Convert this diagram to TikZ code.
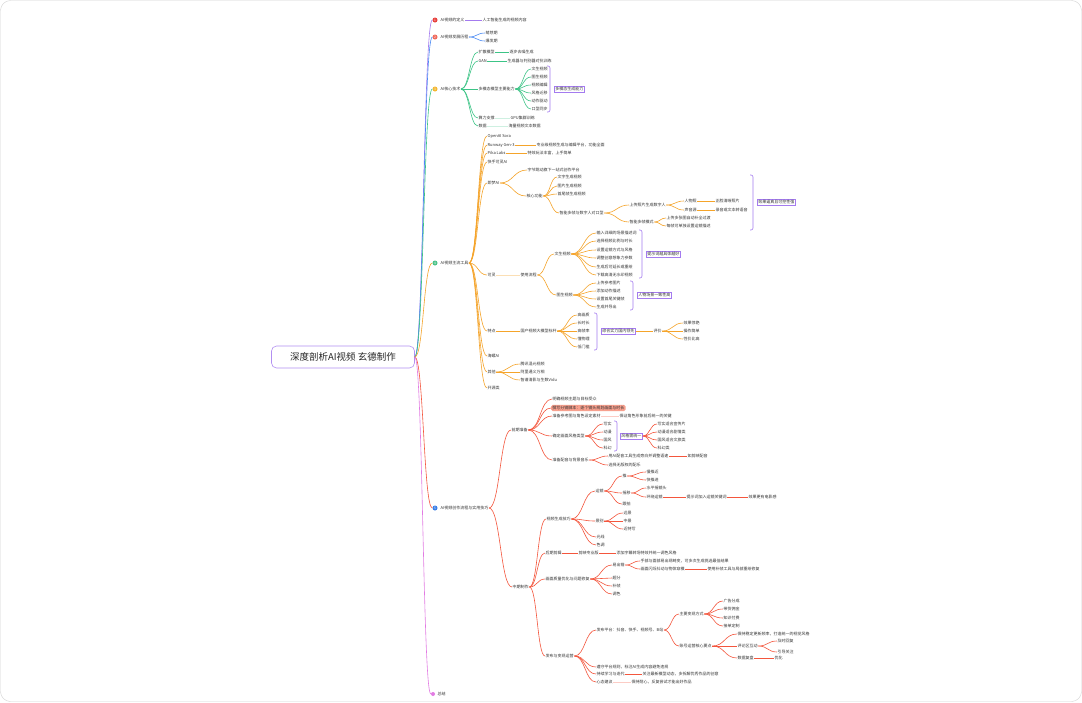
\documentclass[tikz,border=0pt]{standalone}
\usepackage{fontspec}
\setmainfont{Noto Sans CJK SC}
\usepackage{xcolor}
\usepackage{tikz}
\usetikzlibrary{calc, positioning}
\definecolor{cpurple}{HTML}{A47BEF}
\definecolor{cblue}{HTML}{4A8AF4}
\definecolor{cgreen}{HTML}{3CC486}
\definecolor{corange}{HTML}{F5A42A}
\definecolor{cred}{HTML}{F4563D}
\definecolor{cpink}{HTML}{E27BE3}
\definecolor{csalmon}{HTML}{F7A08E}
\definecolor{dred}{HTML}{E8413E}
\definecolor{dsalmon}{HTML}{F06A5C}
\definecolor{dyellow}{HTML}{F4B731}
\definecolor{dgreen}{HTML}{4CC38A}
\definecolor{dblue}{HTML}{3A7FE8}
\tikzset{
    rootnode/.style = {draw=cpurple!85, rounded corners=5pt, line width=0.6pt, minimum width=143pt,
      minimum height=22pt, font=\fontsize{9.5}{11}\selectfont, text=black!85},
    textnode/.style = {anchor=west, inner sep=0.5pt, font=\fontsize{4}{4.8}\selectfont, text=black!80},
    boxnode/.style = {draw=cpurple, line width=0.5pt, fill=white, anchor=west, inner sep=1.2pt,
      font=\fontsize{4}{4.8}\selectfont, text=black!80},
    markbox/.style = {fill=csalmon, rounded corners=1.5pt, anchor=west, inner sep=1.2pt,
      font=\fontsize{4}{4.8}\selectfont, text=black!80},
    dotnode/.style = {circle, minimum size=5pt, inner sep=0pt, text=white, font=\fontsize{3.2}{3.2}\selectfont},
    connect/.style = {line width=0.6pt},
    bracketline/.style = {draw=cpurple, line width=0.6pt, rounded corners=2pt},
    link/.style = {to path={let \p1=(\tikztostart.east), \p2=(\tikztotarget.west) in
      (\p1) .. controls ({(\x1+\x2)/2},\y1) and ({(\x1+\x2)/2},\y2) .. (\p2)}}
}
\begin{document}
\begin{tikzpicture}[x=1pt, y=-1pt]
    \useasboundingbox (0,0) rectangle (1082,702);
    \draw [gray!35, fill=white, rounded corners=10pt] (0.5,0.5) rectangle (1081.5,701.5);

    \node [rootnode, name=root] at (343,357) {深度剖析AI视频 玄德制作};

    % branch 1
    \node [dotnode, fill=dred, name=d1] at (435,20) {1};
    \node [textnode, name=b1] at (440,20) {AI视频的定义};
    \node [textnode, name=b1a] at (482,20) {人工智能生成的视频内容};
    \draw [connect, cpurple] (root) edge[link] (d1) (b1) edge[link] (b1a);

    % branch 2
    \node [dotnode, fill=dsalmon, name=d2] at (435,37) {2};
    \node [textnode, name=b2] at (440,37) {AI视频发展历程};
    \node [textnode, name=b2a] at (485,33) {萌芽期};
    \node [textnode, name=b2b] at (485,41) {爆发期};
    \draw [connect, cblue] (root) edge[link] (d2) (b2) edge[link] (b2a) edge[link] (b2b);

    % branch 3
    \node [dotnode, fill=dyellow, name=d3] at (435,89) {3};
    \node [textnode, name=b3] at (440,89) {AI核心技术};
    \node [textnode, name=b3a] at (478,52) {扩散模型};
    \node [textnode, name=b3a1] at (509,52) {逐步去噪生成};
    \node [textnode, name=b3b] at (478,61) {GAN};
    \node [textnode, name=b3b1] at (507,61) {生成器与判别器对抗训练};
    \node [textnode, name=b3c] at (478,89) {多模态模型主要能力};
    \node [textnode, name=m1] at (531,69) {文生视频};
    \node [textnode, name=m2] at (531,77) {图生视频};
    \node [textnode, name=m3] at (531,85) {视频编辑};
    \node [textnode, name=m4] at (531,93) {风格迁移};
    \node [textnode, name=m5] at (531,101) {动作驱动};
    \node [textnode, name=m6] at (531,109) {口型同步};
    \draw [bracketline] (547,66) -- (550,66) -- (550,112) -- (547,112);
    \node [boxnode, name=s3] at (554,89) {多模态生成能力};
    \node [textnode, name=b3d] at (478,118) {算力支撑};
    \node [textnode, name=b3d1] at (510,118) {GPU集群训练};
    \node [textnode, name=b3e] at (478,126) {数据};
    \node [textnode, name=b3e1] at (508,126) {海量视频文本数据};
    \draw [connect, cgreen] (root) edge[link] (d3)
      (b3) edge[link] (b3a) edge[link] (b3b) edge[link] (b3c) edge[link] (b3d) edge[link] (b3e)
      (b3a) edge[link] (b3a1) (b3b) edge[link] (b3b1)
      (b3c) edge[link] (m1) edge[link] (m2) edge[link] (m3) edge[link] (m4) edge[link] (m5) edge[link] (m6);
    \draw [connect, cgreen!25] (b3d) edge[link] (b3d1) (b3e) edge[link] (b3e1);

    % branch 4
    \node [dotnode, fill=dgreen, name=d4] at (435,263) {4};
    \node [textnode, name=b4] at (440,263) {AI视频主流工具};
    \node [textnode, name=b4a] at (487,136) {OpenAI Sora};
    \node [textnode, name=b4b] at (487,145) {Runway Gen-3};
    \node [textnode, name=b4b1] at (536,145) {专业级视频生成与编辑平台，功能全面};
    \node [textnode, name=b4c] at (487,153) {Pika Labs};
    \node [textnode, name=b4c1] at (527,153) {特效玩法丰富，上手简单};
    \node [textnode, name=b4d] at (487,162) {快手可灵AI};
    \node [textnode, name=b4e] at (487,183) {即梦AI};
    \node [textnode, name=b4e1] at (527,170) {字节跳动旗下一站式创作平台};
    \node [textnode, name=b4e2] at (526,196) {核心功能};
    \node [textnode, name=f1] at (557,177) {文字生成视频};
    \node [textnode, name=f2] at (557,186) {图片生成视频};
    \node [textnode, name=f3] at (557,194) {首尾帧生成视频};
    \node [textnode, name=f4] at (559,213) {智能多帧与数字人对口型};
    \node [textnode, name=f4a] at (629,205) {上传照片生成数字人};
    \node [textnode, name=g1] at (684,201) {人物照};
    \node [textnode, name=g1a] at (715,201) {正脸清晰照片};
    \node [textnode, name=g2] at (684,210) {声音源};
    \node [textnode, name=g2a] at (715,210) {录音或文本转语音};
    \node [textnode, name=f4b] at (629,222) {智能多帧模式};
    \node [textnode, name=g3] at (666,218) {上传多张图自动补全过渡};
    \node [textnode, name=g4] at (666,226) {每帧可单独设置运镜描述};
    \draw [bracketline] (750,175) -- (753,175) -- (753,230) -- (750,230);
    \node [boxnode, name=s4a] at (757,202) {效果逼真且可控性强};

    \node [textnode, name=b4h] at (487,275) {可灵};
    \node [textnode, name=b4h1] at (520,275) {使用流程};
    \node [textnode, name=p1] at (554,254) {文生视频};
    \node [textnode, name=q1] at (596,233) {输入详细的场景描述词};
    \node [textnode, name=q2] at (596,241) {选择视频比例与时长};
    \node [textnode, name=q3] at (596,250) {设置运镜方式与风格};
    \node [textnode, name=q4] at (596,258) {调整创意想象力参数};
    \node [textnode, name=q5] at (596,267) {生成后可延长或重绘};
    \node [textnode, name=q6] at (596,275) {下载高清无水印视频};
    \draw [bracketline] (639,230) -- (642,230) -- (642,278) -- (639,278);
    \node [boxnode, name=s4b] at (646,254) {提示词越具体越好};
    \node [textnode, name=p2] at (556,295) {图生视频};
    \node [textnode, name=r1] at (596,283) {上传参考图片};
    \node [textnode, name=r2] at (596,291) {添加动作描述};
    \node [textnode, name=r3] at (596,299) {设置首尾关键帧};
    \node [textnode, name=r4] at (596,307) {生成并导出};
    \draw [bracketline] (630,281) -- (633,281) -- (633,310) -- (630,310);
    \node [boxnode, name=s4c] at (637,295) {人物场景一致性高};

    \node [textnode, name=b4j] at (487,331) {特点};
    \node [textnode, name=b4j1] at (520,331) {国产视频大模型标杆};
    \node [textnode, name=t1] at (577,315) {高画质};
    \node [textnode, name=t2] at (577,323) {长时长};
    \node [textnode, name=t3] at (577,331) {高帧率};
    \node [textnode, name=t4] at (577,339) {懂物理};
    \node [textnode, name=t5] at (577,347) {低门槛};
    \draw [bracketline] (594,313) -- (597,313) -- (597,350) -- (594,350);
    \node [boxnode, name=s4d] at (601,331) {综合实力国内领先};
    \node [textnode, name=b4j2] at (653,331) {评价};
    \node [textnode, name=u1] at (683,323) {效果惊艳};
    \node [textnode, name=u2] at (683,331) {操作简单};
    \node [textnode, name=u3] at (683,339) {性价比高};

    \node [textnode, name=b4k] at (487,356) {海螺AI};
    \node [textnode, name=b4l] at (487,372) {其他};
    \node [textnode, name=b4l1] at (520,364) {腾讯混元视频};
    \node [textnode, name=b4l2] at (520,372) {阿里通义万相};
    \node [textnode, name=b4l3] at (520,380) {智谱清影与生数Vidu};
    \node [textnode, name=b4m] at (487,388) {开源类};

    \draw [connect, corange] (root) edge[link] (d4)
      (b4) edge[link] (b4a) edge[link] (b4b) edge[link] (b4c) edge[link] (b4d) edge[link] (b4e)
           edge[link] (b4h) edge[link] (b4j) edge[link] (b4k) edge[link] (b4l) edge[link] (b4m)
      (b4b) edge[link] (b4b1) (b4c) edge[link] (b4c1)
      (b4e) edge[link] (b4e1) edge[link] (b4e2)
      (b4e2) edge[link] (f1) edge[link] (f2) edge[link] (f3) edge[link] (f4)
      (f4) edge[link] (f4a) edge[link] (f4b)
      (f4a) edge[link] (g1) edge[link] (g2) (g1) edge[link] (g1a) (g2) edge[link] (g2a)
      (f4b) edge[link] (g3) edge[link] (g4)
      (b4h1) edge[link] (p1) edge[link] (p2)
      (p1) edge[link] (q1) edge[link] (q2) edge[link] (q3) edge[link] (q4) edge[link] (q5) edge[link] (q6)
      (p2) edge[link] (r1) edge[link] (r2) edge[link] (r3) edge[link] (r4)
      (b4j) edge[link] (b4j1)
      (b4j1) edge[link] (t1) edge[link] (t2) edge[link] (t3) edge[link] (t4) edge[link] (t5)
      (s4d) edge[link] (b4j2)
      (b4j2) edge[link] (u1) edge[link] (u2) edge[link] (u3)
      (b4l) edge[link] (b4l1) edge[link] (b4l2) edge[link] (b4l3);
    \draw [connect, corange!35] (b4h) edge[link] (b4h1);

    % branch 5
    \node [dotnode, fill=dblue, name=d5] at (435,508) {5};
    \node [textnode, name=b5] at (440,508) {AI视频创作流程与实用技巧};
    \node [textnode, name=b5a] at (511,430) {前期准备};
    \node [textnode, name=b5a1] at (552,399) {明确视频主题与目标受众};
    \node [markbox, name=b5a2] at (551,408) {撰写分镜脚本：逐个镜头规划画面与时长};
    \node [textnode, name=b5a3] at (552,416) {准备参考图与角色设定素材};
    \node [textnode, name=b5a3a] at (619,416) {保证角色形象前后统一的关键};
    \node [textnode, name=b5a4] at (552,436) {确定画面风格类型};
    \node [textnode, name=v1] at (603,424) {写实};
    \node [textnode, name=v2] at (603,432) {动漫};
    \node [textnode, name=v3] at (603,440) {国风};
    \node [textnode, name=v4] at (603,448) {科幻};
    \draw [bracketline] (614,421) -- (617,421) -- (617,451) -- (614,451);
    \node [boxnode, name=s5a] at (620,436) {风格需统一};
    \node [textnode, name=w1] at (657,424) {写实适合宣传片};
    \node [textnode, name=w2] at (657,432) {动漫适合剧情类};
    \node [textnode, name=w3] at (657,440) {国风适合文旅类};
    \node [textnode, name=w4] at (657,448) {科幻类};
    \node [textnode, name=b5a5] at (552,460) {准备配音与背景音乐};
    \node [textnode, name=b5a5a] at (608,456) {用AI配音工具生成旁白并调整语速};
    \node [textnode, name=b5a5b] at (687,456) {如剪映配音};
    \node [textnode, name=b5a5c] at (608,465) {选择无版权的配乐};

    \node [textnode, name=b5b] at (512,587) {中期制作};
    \node [textnode, name=b5b1] at (546,519) {视频生成技巧};
    \node [textnode, name=x1] at (595,491) {运镜};
    \node [textnode, name=x1a] at (622,476) {推};
    \node [textnode, name=y1] at (646,472) {慢推近};
    \node [textnode, name=y2] at (646,480) {快推进};
    \node [textnode, name=x1b] at (622,493) {摇移};
    \node [textnode, name=y3] at (646,488) {水平摇镜头};
    \node [textnode, name=y4] at (646,497) {环绕运镜};
    \node [textnode, name=y4a] at (686,497) {提示词加入运镜关键词};
    \node [textnode, name=y4b] at (748,497) {效果更有电影感};
    \node [textnode, name=x1c] at (622,504) {跟拍};
    \node [textnode, name=x2] at (595,521) {景别};
    \node [textnode, name=z1] at (623,513) {远景};
    \node [textnode, name=z2] at (623,521) {中景};
    \node [textnode, name=z3] at (623,529) {近特写};
    \node [textnode, name=x3] at (596,537) {光线};
    \node [textnode, name=x4] at (596,545) {色调};
    \node [textnode, name=b5b2] at (545,553) {后期剪辑};
    \node [textnode, name=b5b2a] at (578,553) {剪映专业版};
    \node [textnode, name=b5b2b] at (616,553) {添加字幕转场特效并统一调色风格};
    \node [textnode, name=b5b3] at (545,579) {画面质量优化与问题修复};
    \node [textnode, name=e1] at (612,565) {易出错};
    \node [textnode, name=e1a] at (640,561) {手部与面部易出现畸变，可多次生成挑选最佳结果};
    \node [textnode, name=e1b] at (640,569) {画面闪烁抖动与物体穿模};
    \node [textnode, name=e1c] at (707,569) {使用补帧工具与局部重绘修复};
    \node [textnode, name=e2] at (612,578) {超分};
    \node [textnode, name=e3] at (612,586) {补帧};
    \node [textnode, name=e4] at (612,594) {调色};
    \node [textnode, name=b5b4] at (545,656) {发布与变现运营};
    \node [textnode, name=h1] at (596,630) {发布平台：抖音、快手、视频号、B站};
    \node [textnode, name=h1a] at (679,614) {主要变现方式};
    \node [textnode, name=j1] at (723,601) {广告分成};
    \node [textnode, name=j2] at (723,609) {带货佣金};
    \node [textnode, name=j3] at (723,618) {知识付费};
    \node [textnode, name=j4] at (723,626) {接单定制};
    \node [textnode, name=h1b] at (679,646) {账号运营核心要点};
    \node [textnode, name=k1] at (737,634) {保持稳定更新频率，打造统一的视觉风格};
    \node [textnode, name=k2] at (737,646) {评论区互动};
    \node [textnode, name=k2a] at (777,641) {及时回复};
    \node [textnode, name=k2b] at (777,652) {引导关注};
    \node [textnode, name=k3] at (737,658) {数据复盘};
    \node [textnode, name=k3a] at (774,658) {优化};
    \node [textnode, name=h2] at (596,667) {遵守平台规则，标注AI生成内容避免违规};
    \node [textnode, name=h3] at (596,674) {持续学习与迭代};
    \node [textnode, name=h3a] at (642,674) {关注最新模型动态，多拆解优秀作品的创意};
    \node [textnode, name=h4] at (596,682) {心态建议};
    \node [textnode, name=h4a] at (631,682) {保持耐心，反复尝试才能出好作品};

    \draw [connect, cred] (root) edge[link] (d5)
      (b5) edge[link] (b5a) edge[link] (b5b)
      (b5a) edge[link] (b5a1) edge[link] (b5a2) edge[link] (b5a3) edge[link] (b5a4) edge[link] (b5a5)
      (b5a4) edge[link] (v1) edge[link] (v2) edge[link] (v3) edge[link] (v4)
      (s5a) edge[link] (w1) edge[link] (w2) edge[link] (w3) edge[link] (w4)
      (b5a5) edge[link] (b5a5a) edge[link] (b5a5c) (b5a5a) edge[link] (b5a5b)
      (b5b) edge[link] (b5b1) edge[link] (b5b2) edge[link] (b5b3) edge[link] (b5b4)
      (b5b1) edge[link] (x1) edge[link] (x2) edge[link] (x3) edge[link] (x4)
      (x1) edge[link] (x1a) edge[link] (x1b) edge[link] (x1c)
      (x1a) edge[link] (y1) edge[link] (y2)
      (x1b) edge[link] (y3) edge[link] (y4)
      (y4) edge[link] (y4a) (y4a) edge[link] (y4b)
      (x2) edge[link] (z1) edge[link] (z2) edge[link] (z3)
      (b5b2) edge[link] (b5b2a) (b5b2a) edge[link] (b5b2b)
      (b5b3) edge[link] (e1) edge[link] (e2) edge[link] (e3) edge[link] (e4)
      (e1) edge[link] (e1a) edge[link] (e1b) (e1b) edge[link] (e1c)
      (b5b4) edge[link] (h1) edge[link] (h2) edge[link] (h3) edge[link] (h4)
      (h1) edge[link] (h1a) edge[link] (h1b)
      (h1a) edge[link] (j1) edge[link] (j2) edge[link] (j3) edge[link] (j4)
      (h1b) edge[link] (k1) edge[link] (k2) edge[link] (k3)
      (k2) edge[link] (k2a) edge[link] (k2b) (k3) edge[link] (k3a)
      (h3) edge[link] (h3a);
    \draw [connect, cred!30] (b5a3) edge[link] (b5a3a) (h4) edge[link] (h4a);

    % branch 6
    \node [dotnode, fill=cpink, minimum size=4pt, name=d6] at (433,694) {};
    \node [textnode, name=b6] at (437,694) {总结};
    \draw [connect, cpink] (root) edge[link] (d6);
\end{tikzpicture}
\end{document}
